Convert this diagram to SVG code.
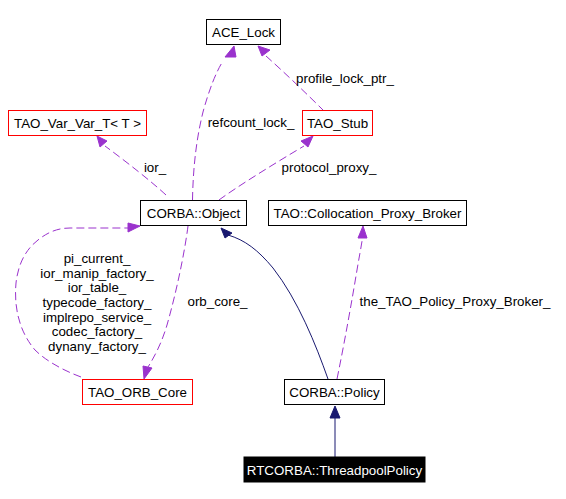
<svg xmlns="http://www.w3.org/2000/svg" width="566" height="499" viewBox="0 0 566 499">
<style>
text{font-family:"Liberation Sans",Arial,sans-serif;font-size:13.33px;fill:#000;text-anchor:middle}
.box{fill:#fff;stroke:#000;stroke-width:1}
.red{fill:#fff;stroke:#ff0000;stroke-width:1}
.dash{fill:none;stroke:#9a32cd;stroke-width:1;stroke-dasharray:8,4}
.solid{fill:none;stroke:#191970;stroke-width:1}
.ph{fill:#9a32cd;stroke:#9a32cd}
.nh{fill:#191970;stroke:#191970}
</style>
<rect width="566" height="499" fill="#fff"/>
<g id="edges">
<path class="dash" d="M192.5,200 C193,170 196,140 203,112 C209,90 216,72 223,61"/>
<polygon class="ph" points="234,46 236,57 225,57"/>
<text x="251" y="127">refcount_lock_</text>
<path class="dash" d="M324,111 C309,96 285,73 266,56"/>
<polygon class="ph" points="258,46 270,50 262,56"/>
<text x="345" y="83">profile_lock_ptr_</text>
<path class="dash" d="M166,195 C152,182 128,163 105,146"/>
<polygon class="ph" points="97,136 107,141 100,147"/>
<text x="155" y="172">ior_</text>
<path class="dash" d="M219,200 C238,186 277,162 304,146"/>
<polygon class="ph" points="313,136 308,147 301,141"/>
<text x="329" y="172">protocol_proxy_</text>
<path class="dash" d="M81,377 C62,370 45,360 35,350 C18,330 14,305 16,283 C18,265 25,250 38,240 C48,232 58,228 70,228 L128,228"/>
<polygon class="ph" points="140,226 128,232 128,223"/>
<text x="97" y="263">pi_current_</text>
<text x="97" y="278">ior_manip_factory_</text>
<text x="97" y="292">ior_table_</text>
<text x="97" y="307">typecode_factory_</text>
<text x="97" y="322">implrepo_service_</text>
<text x="97" y="336">codec_factory_</text>
<text x="97" y="351">dynany_factory_</text>
<path class="dash" d="M188,226 C185,250 177,290 167,325 C162,342 155,356 148,367"/>
<polygon class="ph" points="144,379 143,366 152,368"/>
<text x="217.5" y="306">orb_core_</text>
<path class="solid" d="M328,379 C316,345 298,300 273,268 C258,250 245,240 228,235"/>
<polygon class="nh" points="221,228 232,233 225,238"/>
<path class="dash" d="M337,379 C345,340 352,300 357,270 C359,258 361,248 362.5,238"/>
<polygon class="ph" points="363,226 367,238 358,238"/>
<text x="455" y="306">the_TAO_Policy_Proxy_Broker_</text>
<path class="solid" d="M335,457 L335,417"/>
<polygon class="nh" points="335,406 340,418 330,418"/>
</g>
<g id="ACE_Lock"><rect class="box" x="206.5" y="19.5" width="74" height="25"/><text x="243.5" y="37">ACE_Lock</text></g>
<g id="TAO_Var_Var_T"><rect class="red" x="8.5" y="110.5" width="138" height="25"/><text x="77.5" y="128">TAO_Var_Var_T&lt; T &gt;</text></g>
<g id="TAO_Stub"><rect class="red" x="302.5" y="110.5" width="70" height="25"/><text x="337.5" y="128">TAO_Stub</text></g>
<g id="CORBA_Object"><rect class="box" x="140.5" y="200.5" width="106" height="25"/><text x="193.5" y="218">CORBA::Object</text></g>
<g id="TAO_Collocation_Proxy_Broker"><rect class="box" x="268.5" y="200.5" width="198" height="25"/><text x="367.5" y="218">TAO::Collocation_Proxy_Broker</text></g>
<g id="TAO_ORB_Core"><rect class="red" x="82.5" y="379.5" width="110" height="25"/><text x="137.5" y="397">TAO_ORB_Core</text></g>
<g id="CORBA_Policy"><rect class="box" x="284.5" y="379.5" width="100" height="25"/><text x="334.5" y="397">CORBA::Policy</text></g>
<g id="RTCORBA_ThreadpoolPolicy"><rect x="244" y="457" width="181" height="25" fill="#000" stroke="#000"/><text x="334.5" y="475" style="fill:#fff">RTCORBA::ThreadpoolPolicy</text></g>
</svg>
